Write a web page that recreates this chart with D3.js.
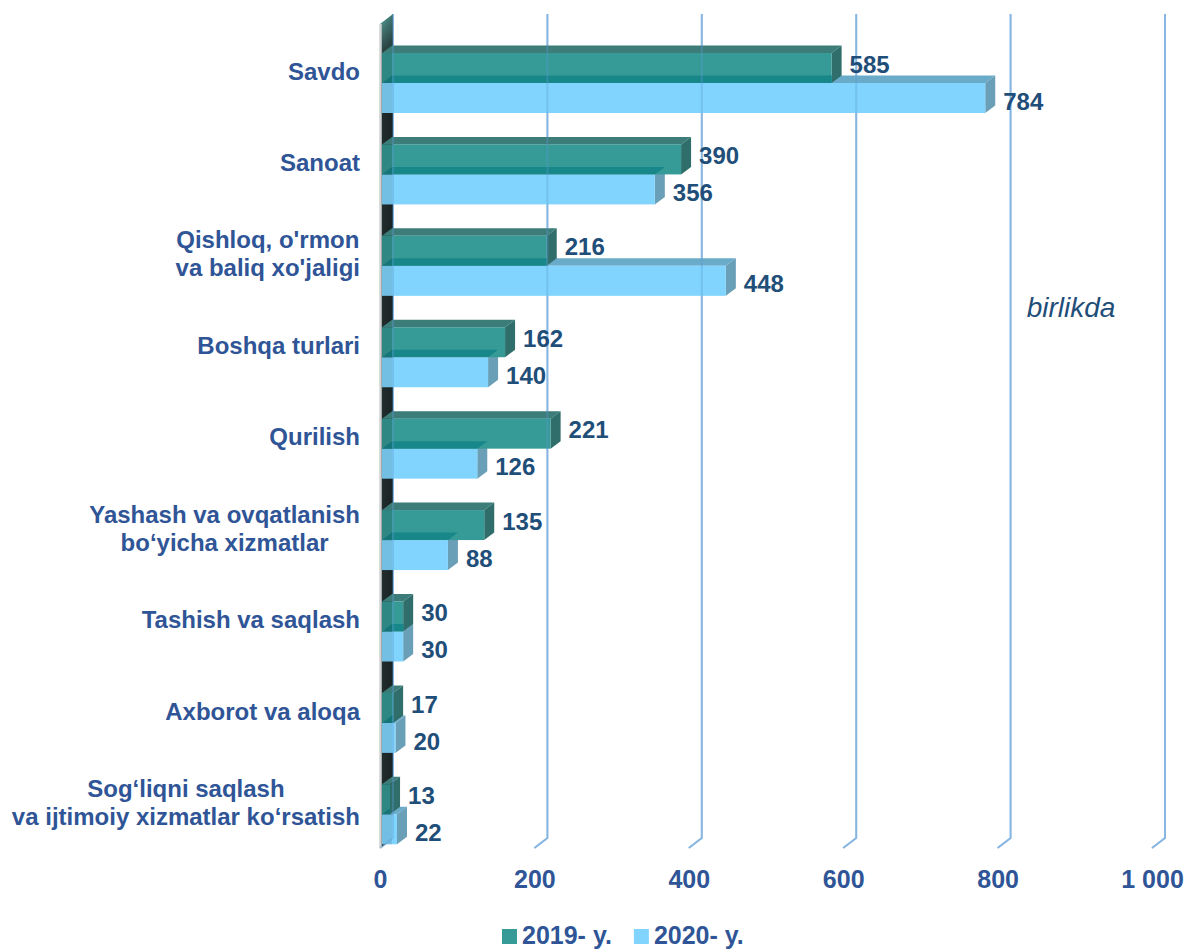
<!DOCTYPE html>
<html><head><meta charset="utf-8">
<script src="https://cdn.jsdelivr.net/npm/d3@7"></script>
<style>
html,body{margin:0;padding:0;background:#fff;}
svg{display:block;font-family:"Liberation Sans",Arial,sans-serif;}
</style></head>
<body><svg id="chart" width="1184" height="952"></svg>
<script>
const categories = ["Savdo","Sanoat","Qishloq, o'rmon\nva baliq xo'jaligi","Boshqa turlari","Qurilish","Yashash va ovqatlanish\nbo‘yicha xizmatlar","Tashish va saqlash","Axborot va aloqa","Sog‘liqni saqlash\nva ijtimoiy xizmatlar ko‘rsatish"];
const values2019 = [585,390,216,162,221,135,30,17,13];
const values2020 = [784,356,448,140,126,88,30,20,22];
const seriesNames = ["2019- y.","2020- y."];
const tickValues = [0,200,400,600,800,1000];
const unitLabel = "birlikda";

const svg = d3.select("#chart");
const x = d3.scaleLinear().domain([0,1000]).range([380,1152]);
const y = d3.scaleBand().domain(categories).range([37.3,860]).padding(0);
const gdx = 13, gdy = 10;       // floor / wall depth
const bdx = 10, bdy = 7.5;      // bar depth
const barH = 30;
const floorY = 848, topY = 14;
const fmt = d3.formatLocale({decimal:".",thousands:" ",grouping:[3],currency:["",""]}).format(",");

const col = {
  f19:"#369a96", t19:"#3c7d7a", s19:"#2f6e6b", ov:"#17878a",
  f20:"#81d4fd", t20:"#6aabca", s20:"#6a9fb8"
};

const defs = svg.append("defs");
const wg = defs.append("linearGradient").attr("id","wallg").attr("x1",0).attr("x2",0).attr("y1",topY).attr("y2",60).attr("gradientUnits","userSpaceOnUse");
wg.append("stop").attr("offset",0).attr("stop-color","#5aa59f");
wg.append("stop").attr("offset",1).attr("stop-color","#22302f");
const wg2 = defs.append("linearGradient").attr("id","wallh").attr("x1",0).attr("x2",1);
wg2.append("stop").attr("offset",0).attr("stop-color","#000").attr("stop-opacity",0);
wg2.append("stop").attr("offset",1).attr("stop-color","#000").attr("stop-opacity",0.3);

const gridPath = v => {
  const xb = x(v) + gdx, xf = x(v);
  return `M${xb},${topY} L${xb},${floorY-gdy} L${xf},${floorY}`;
};

// gridlines behind
svg.append("g").selectAll("path").data(tickValues).join("path")
  .attr("d", gridPath).attr("fill","none").attr("stroke","#9fc5ea").attr("stroke-width",2);

// left wall
const x0 = x(0);
svg.append("path")
  .attr("d", `M${x0},${floorY} L${x0+gdx},${floorY-gdy} L${x0+gdx},${topY} L${x0},${topY+gdy} Z`)
  .attr("fill","url(#wallg)");
svg.append("path")
  .attr("d", `M${x0},${floorY} L${x0+gdx},${floorY-gdy} L${x0+gdx},${topY} L${x0},${topY+gdy} Z`)
  .attr("fill","url(#wallh)");
svg.append("line").attr("x1",x0+0.5).attr("x2",x0+0.5).attr("y1",topY+gdy).attr("y2",floorY)
  .attr("stroke","#cfd2d2").attr("stroke-width",2.5);

const xs = x0 + 2;
const bars = svg.append("g");
const groups = categories.map((c,i)=>({c, i, v19:values2019[i], v20:values2020[i], cy: y(c)+y.bandwidth()/2}));

groups.forEach(g => {
  const gg = bars.append("g");
  const e19 = x(g.v19), e20 = x(g.v20);
  const t19 = g.cy - barH, b19 = g.cy, t20 = g.cy, b20 = g.cy + barH;
  // 2020 bar
  gg.append("path").attr("d",`M${xs},${t20} L${xs+bdx},${t20-bdy} L${e20+bdx},${t20-bdy} L${e20},${t20} Z`).attr("fill",col.t20);
  gg.append("path").attr("d",`M${e20},${t20} L${e20+bdx},${t20-bdy} L${e20+bdx},${b20-bdy} L${e20},${b20} Z`).attr("fill",col.s20);
  gg.append("rect").attr("x",xs).attr("y",t20).attr("width",e20-xs).attr("height",barH).attr("fill",col.f20);
  // 2019 bar
  gg.append("path").attr("d",`M${xs},${t19} L${xs+bdx},${t19-bdy} L${e19+bdx},${t19-bdy} L${e19},${t19} Z`).attr("fill",col.t19);
  gg.append("path").attr("d",`M${e19},${t19} L${e19+bdx},${t19-bdy} L${e19+bdx},${b19-bdy} L${e19},${b19} Z`).attr("fill",col.s19);
  gg.append("rect").attr("x",xs).attr("y",t19).attr("width",e19-xs).attr("height",barH).attr("fill",col.f19);
  // 2020 top face seen through 2019 front
  const cid = "clip"+g.i;
  defs.append("clipPath").attr("id",cid).append("rect").attr("x",xs).attr("y",t19).attr("width",e19-xs).attr("height",barH);
  gg.append("path").attr("clip-path",`url(#${cid})`)
    .attr("d",`M${xs},${t20} L${xs+bdx},${t20-bdy} L${e20+bdx},${t20-bdy} L${e20},${t20} Z`).attr("fill",col.ov);
  // wall shade through bar fronts
  gg.append("rect").attr("x",xs).attr("y",t19).attr("width",Math.min(bdx,e19-xs)).attr("height",barH).attr("fill","#000").attr("opacity",0.12);
  gg.append("rect").attr("x",xs).attr("y",t20).attr("width",Math.min(bdx,e20-xs)).attr("height",barH).attr("fill","#000").attr("opacity",0.1);
});

// gridlines over bars (faint)
svg.append("g").selectAll("path").data(tickValues).join("path")
  .attr("d", gridPath).attr("fill","none").attr("stroke","#5b9bd5").attr("stroke-width",2).attr("opacity",0.35);

// value labels
const vl = svg.append("g").attr("font-weight","bold").attr("font-size",24).attr("fill","#1f4e79");
groups.forEach(g => {
  vl.append("text").attr("x",x(g.v19)+bdx+8).attr("y",g.cy-19).attr("dy","0.36em").text(g.v19);
  vl.append("text").attr("x",x(g.v20)+bdx+8).attr("y",g.cy+18).attr("dy","0.36em").text(g.v20);
});

// category labels
const cl = svg.append("g").attr("font-weight","bold").attr("font-size",24).attr("fill","#2f5597");
groups.forEach(g => {
  const lines = g.c.split("\n");
  const t = cl.append("text").attr("text-anchor","middle");
  const lh = 28;
  const y0 = g.cy - 12 - (lines.length-1)*lh/2;
  const spans = lines.map((l,k)=> t.append("tspan").attr("y",y0+k*lh).attr("dy","0.36em").text(l));
  const w = d3.max(spans, s => s.node().getComputedTextLength());
  spans.forEach(s => s.attr("x", 360 - w/2));
});

// x axis
const ax = svg.append("g").attr("transform",`translate(0,${floorY+22})`)
  .call(d3.axisBottom(x).tickValues(tickValues).tickFormat(fmt).tickSize(0).tickPadding(0));
ax.select(".domain").remove();
ax.selectAll("text").attr("font-family","'Liberation Sans',Arial,sans-serif").attr("font-size",25).attr("font-weight","bold").attr("fill","#2f5597").attr("dy","0.71em");

// unit label
svg.append("text").attr("x",1071).attr("y",307).attr("dy","0.36em").attr("text-anchor","middle")
  .attr("font-size",28).attr("font-style","italic").attr("fill","#1f4e79").text(unitLabel);

// legend
const legColors = [col.f19, col.f20];
const lg = svg.append("g").attr("font-weight","bold").attr("font-size",25).attr("fill","#2f5597");
let lx = 502;
seriesNames.forEach((n,i)=>{
  lg.append("rect").attr("x",lx).attr("y",929).attr("width",15).attr("height",15).attr("fill",legColors[i]);
  const t = lg.append("text").attr("x",lx+20).attr("y",944).text(n);
  lx += 20 + t.node().getComputedTextLength() + 22;
});
</script></body></html>
